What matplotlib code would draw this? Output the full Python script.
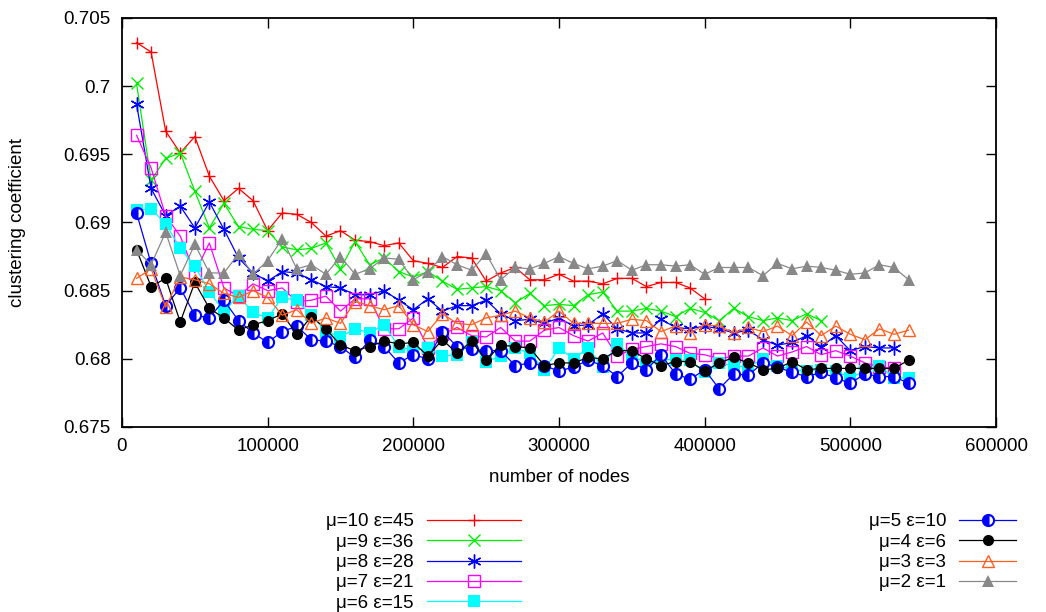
import numpy as np
import matplotlib
matplotlib.use("Agg")
import matplotlib.pyplot as plt

# --- dati (coefficiente di clustering vs numero di nodi) ---
nodes = np.arange(1, 55) * 10000

mu10 = [0.7032, 0.7025, 0.6967, 0.6951, 0.6963, 0.6934, 0.6916, 0.6925, 0.6916, 0.6894,
        0.6907, 0.6906, 0.6900, 0.6890, 0.6894, 0.6887, 0.6886, 0.6883, 0.6885, 0.6872,
        0.6870, 0.6867, 0.6875, 0.6874, 0.6857, 0.6863, 0.6867, 0.6858, 0.6858, 0.6862,
        0.6857, 0.6857, 0.6855, 0.6859, 0.6859, 0.6853, 0.6856, 0.6856, 0.6852, 0.6844]
mu9 = [0.7002, 0.6931, 0.6947, 0.6951, 0.6923, 0.6896, 0.6914, 0.6897, 0.6895, 0.6894,
       0.6882, 0.6880, 0.6881, 0.6885, 0.6866, 0.6886, 0.6869, 0.6874, 0.6864, 0.6860,
       0.6864, 0.6857, 0.6851, 0.6852, 0.6853, 0.6850, 0.6841, 0.6848, 0.6839, 0.6840,
       0.6839, 0.6847, 0.6849, 0.6835, 0.6835, 0.6837, 0.6835, 0.6831, 0.6837, 0.6834,
       0.6828, 0.6837, 0.6831, 0.6828, 0.6830, 0.6828, 0.6833, 0.6828]
mu8 = [0.6987, 0.6925, 0.6905, 0.6912, 0.6896, 0.6915, 0.6895, 0.6874, 0.6863, 0.6857,
       0.6864, 0.6863, 0.6858, 0.6853, 0.6852, 0.6847, 0.6847, 0.6850, 0.6843, 0.6836,
       0.6844, 0.6835, 0.6839, 0.6839, 0.6843, 0.6833, 0.6828, 0.6829, 0.6826, 0.6830,
       0.6824, 0.6825, 0.6833, 0.6822, 0.6819, 0.6819, 0.6829, 0.6823, 0.6822, 0.6824,
       0.6822, 0.6819, 0.6821, 0.6814, 0.6810, 0.6812, 0.6817, 0.6809, 0.6817, 0.6806,
       0.6809, 0.6808, 0.6808]
mu7 = [0.6964, 0.6940, 0.6905, 0.6890, 0.6863, 0.6885, 0.6852, 0.6846, 0.6855, 0.6850,
       0.6852, 0.6842, 0.6843, 0.6846, 0.6835, 0.6844, 0.6844, 0.6822, 0.6822, 0.6830,
       0.6808, 0.6818, 0.6823, 0.6817, 0.6816, 0.6823, 0.6813, 0.6813, 0.6821, 0.6823,
       0.6817, 0.6813, 0.6819, 0.6802, 0.6807, 0.6809, 0.6811, 0.6809, 0.6804, 0.6803,
       0.6800, 0.6802, 0.6802, 0.6808, 0.6802, 0.6805, 0.6809, 0.6803, 0.6806, 0.6802,
       0.6797, 0.6794, 0.6793]
mu6 = [0.6909, 0.6910, 0.6899, 0.6881, 0.6868, 0.6849, 0.6835, 0.6846, 0.6834, 0.6830,
       0.6845, 0.6843, 0.6832, 0.6820, 0.6816, 0.6822, 0.6819, 0.6825, 0.6809, 0.6806,
       0.6808, 0.6802, 0.6803, 0.6812, 0.6798, 0.6802, 0.6808, 0.6804, 0.6792, 0.6808,
       0.6800, 0.6808, 0.6794, 0.6811, 0.6802, 0.6797, 0.6800, 0.6799, 0.6799, 0.6790,
       0.6797, 0.6795, 0.6794, 0.6800, 0.6795, 0.6792, 0.6791, 0.6792, 0.6791, 0.6786,
       0.6791, 0.6795, 0.6786, 0.6786]
mu5 = [0.6907, 0.6870, 0.6839, 0.6852, 0.6832, 0.6830, 0.6843, 0.6828, 0.6819, 0.6812,
       0.6820, 0.6824, 0.6814, 0.6813, 0.6809, 0.6801, 0.6814, 0.6809, 0.6797, 0.6803,
       0.6800, 0.6820, 0.6809, 0.6807, 0.6806, 0.6806, 0.6795, 0.6797, 0.6795, 0.6791,
       0.6794, 0.6799, 0.6795, 0.6787, 0.6797, 0.6792, 0.6803, 0.6789, 0.6785, 0.6792,
       0.6778, 0.6789, 0.6788, 0.6797, 0.6794, 0.6790, 0.6787, 0.6790, 0.6786, 0.6782,
       0.6789, 0.6787, 0.6787, 0.6782]
mu4 = [0.6880, 0.6853, 0.6859, 0.6827, 0.6856, 0.6837, 0.6830, 0.6821, 0.6825, 0.6828,
       0.6833, 0.6818, 0.6831, 0.6822, 0.6810, 0.6806, 0.6809, 0.6813, 0.6811, 0.6812,
       0.6802, 0.6814, 0.6804, 0.6813, 0.6799, 0.6810, 0.6809, 0.6808, 0.6795, 0.6797,
       0.6797, 0.6801, 0.6800, 0.6806, 0.6806, 0.6800, 0.6795, 0.6798, 0.6798, 0.6791,
       0.6797, 0.6801, 0.6797, 0.6792, 0.6793, 0.6798, 0.6792, 0.6793, 0.6793, 0.6793,
       0.6793, 0.6793, 0.6793, 0.6799]
mu3 = [0.6859, 0.6866, 0.6838, 0.6860, 0.6858, 0.6855, 0.6848, 0.6845, 0.6850, 0.6845,
       0.6832, 0.6836, 0.6826, 0.6830, 0.6826, 0.6842, 0.6839, 0.6836, 0.6839, 0.6825,
       0.6820, 0.6833, 0.6826, 0.6825, 0.6830, 0.6832, 0.6835, 0.6830, 0.6827, 0.6835,
       0.6826, 0.6826, 0.6826, 0.6826, 0.6829, 0.6828, 0.6820, 0.6824, 0.6819, 0.6825,
       0.6824, 0.6819, 0.6823, 0.6820, 0.6824, 0.6817, 0.6827, 0.6817, 0.6824, 0.6818,
       0.6814, 0.6822, 0.6818, 0.6821]
mu2 = [0.6880, 0.6869, 0.6893, 0.6861, 0.6884, 0.6863, 0.6863, 0.6877, 0.6862, 0.6872,
       0.6888, 0.6866, 0.6869, 0.6862, 0.6875, 0.6862, 0.6866, 0.6874, 0.6873, 0.6858,
       0.6864, 0.6875, 0.6869, 0.6865, 0.6877, 0.6858, 0.6867, 0.6866, 0.6870, 0.6875,
       0.6870, 0.6866, 0.6868, 0.6872, 0.6865, 0.6869, 0.6869, 0.6868, 0.6869, 0.6862,
       0.6867, 0.6867, 0.6867, 0.6861, 0.6870, 0.6866, 0.6868, 0.6867, 0.6865, 0.6862,
       0.6863, 0.6869, 0.6867, 0.6858]

labels = ["μ=10 ε=45", "μ=9 ε=36", "μ=8 ε=28", "μ=7 ε=21", "μ=6 ε=15",
          "μ=5 ε=10", "μ=4 ε=6", "μ=3 ε=3", "μ=2 ε=1"]
series = [mu10, mu9, mu8, mu7, mu6, mu5, mu4, mu3, mu2]

xticks = [0, 100000, 200000, 300000, 400000, 500000, 600000]
yticks = [0.675, 0.68, 0.685, 0.69, 0.695, 0.7, 0.705]
ytick_labels = ["0.675", "0.68", "0.685", "0.69", "0.695", "0.7", "0.705"]

# --- stili in stile gnuplot ---
stili = [
    dict(color="#ff0000", marker="+", ms=9, mew=1.0),
    dict(color="#00ee00", marker="x", ms=8, mew=1.0),
    dict(color="#0000ff", marker=(6, 2, 0), ms=10, mew=1.0),
    dict(color="#ff00ff", marker="s", ms=8, mew=1.0, mfc="none"),
    dict(color="#00ffff", marker="s", ms=8, mew=0),
    dict(color="#0000ff", marker="o", ms=8, mew=1.5, fillstyle="left",
         markerfacecoloralt="white"),
    dict(color="#000000", marker="o", ms=8, mew=0),
    dict(color="#ff5f1f", marker="^", ms=8, mew=1.0, mfc="none"),
    dict(color="#888888", marker="^", ms=8, mew=0),
]

plt.rcParams["font.family"] = ["Liberation Sans", "DejaVu Sans"]
plt.rcParams["font.size"] = 13.5

fig = plt.figure(figsize=(10.46, 6.12), dpi=100)
ax = fig.add_axes([0.1166, 0.3023, 0.9522 - 0.1166, 0.9706 - 0.3023])

linee = []
for y, lab, st in zip(series, labels, stili):
    x = nodes[:len(y)]
    l, = ax.plot(x, y, lw=0.9, label=lab, **st)
    linee.append(l)

ax.set_xlim(0, 600000)
ax.set_ylim(0.675, 0.705)
ax.set_xticks(xticks)
ax.set_xticklabels([str(t) for t in xticks])
ax.set_yticks(yticks)
ax.set_yticklabels(ytick_labels)
ax.tick_params(direction="in", length=7, width=1, top=True, right=True, pad=8)
for s in ax.spines.values():
    s.set_linewidth(1.3)

ax.set_xlabel("number of nodes")
ax.xaxis.set_label_coords(0.5, -(478 - 427) / 409)
ax.xaxis.label.set_va("center")
ax.set_ylabel("clustering coefficient")
ax.yaxis.set_label_coords(-(122 - 18) / 874, 0.5)
ax.yaxis.label.set_va("center")

comuni = dict(loc="upper right", frameon=False, markerfirst=False,
              labelspacing=0.17, handletextpad=0.7, borderpad=0, fontsize=13.5)
leg1 = fig.legend(linee[:5], labels[:5],
                  bbox_to_anchor=(530 / 1046, 1 - 504 / 612),
                  handlelength=5.0, **comuni)
leg2 = fig.legend(linee[5:], labels[5:],
                  bbox_to_anchor=(1025 / 1046, 1 - 504 / 612),
                  handlelength=3.0, **comuni)

fig.savefig("out.png", dpi=100)
